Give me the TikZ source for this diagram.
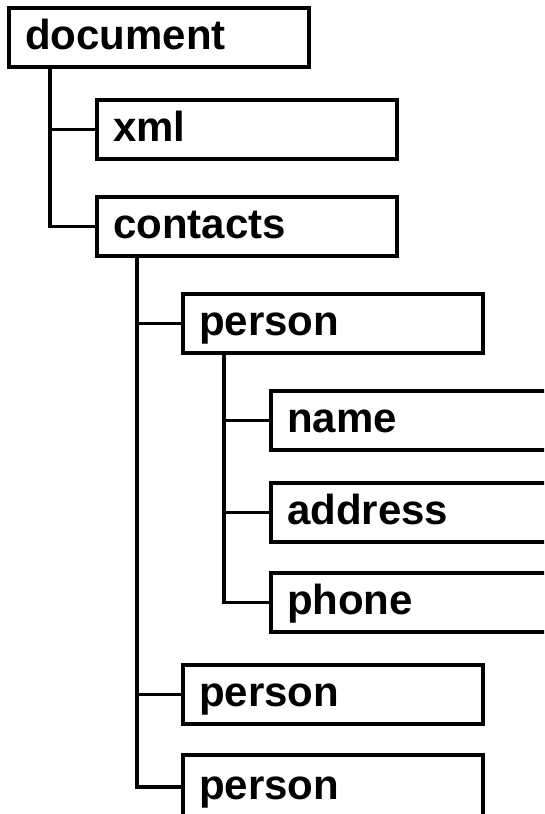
\documentclass[tikz,border=0pt]{standalone}
\usepackage{fontspec}
\setmainfont{Liberation Sans}
\begin{document}
\begin{tikzpicture}[x=1pt,y=-1pt,line width=3.4pt,
  box/.style={draw, rectangle, anchor=north west, minimum height=59pt,
    minimum width=300pt, inner xsep=16pt, inner ysep=0pt, text width=268pt,
    align=left, text height=30pt, text depth=6pt, outer sep=0pt,
    font=\fontsize{42}{42}\selectfont\bfseries},
  link/.style={line width=3.4pt}]
\useasboundingbox (0,0) rectangle (544,814);
\clip (0,0) rectangle (544,814);
\node[box] (doc) at (9,8) {document};
\node[box] (xml) at (97,100) {xml};
\node[box] (contacts) at (97,197) {contacts};
\node[box] (p1) at (183,294) {person};
\node[box] (name) at (271,391) {name};
\node[box] (addr) at (271,483) {address};
\node[box] (phone) at (271,573) {phone};
\node[box] (p2) at (183,665) {person};
\node[box, minimum height=64pt] (p3) at (183,755) {person};
\draw[link] ([xshift=41pt]doc.south west) |- (xml.west);
\draw[link] ([xshift=41pt]doc.south west) |- (contacts.west);
\draw[link] ([xshift=40pt]contacts.south west) |- (p1.west);
\draw[link] ([xshift=40pt]contacts.south west) |- (p2.west);
\draw[link] ([xshift=40pt]contacts.south west) |- (p3.west);
\draw[link] ([xshift=41pt]p1.south west) |- (name.west);
\draw[link] ([xshift=41pt]p1.south west) |- (addr.west);
\draw[link] ([xshift=41pt]p1.south west) |- (phone.west);
\end{tikzpicture}
\end{document}
